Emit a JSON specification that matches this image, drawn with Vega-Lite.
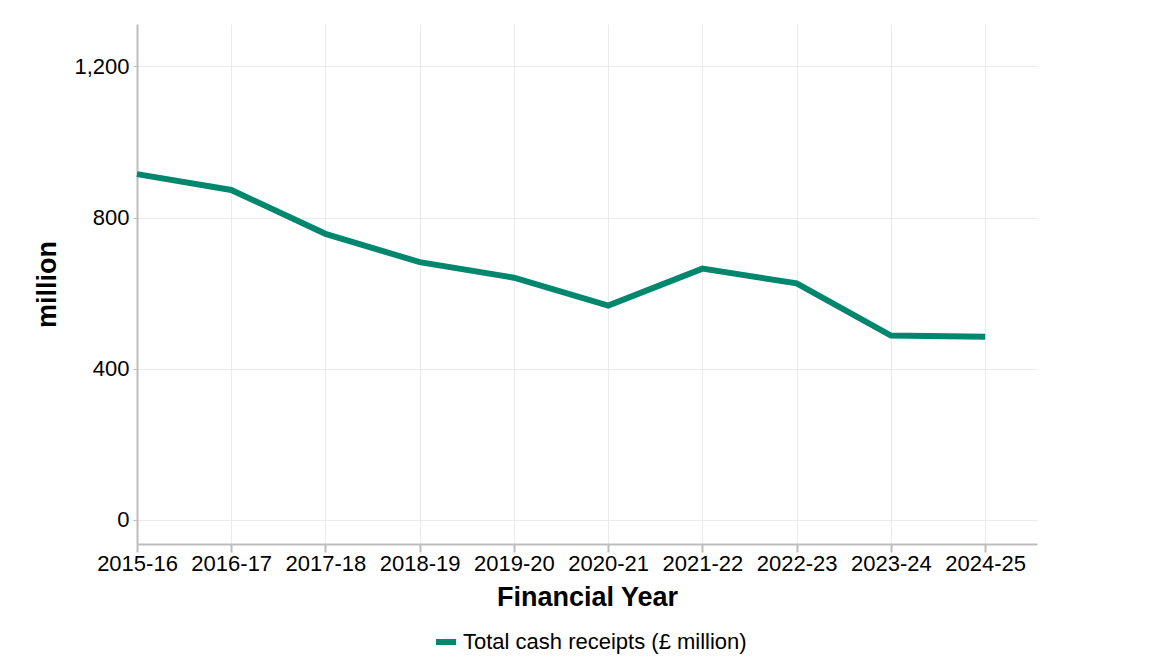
{
  "$schema": "https://vega.github.io/schema/vega-lite/v6.json",
  "autosize": {"type": "none"},
  "padding": {"left": 137, "top": 24, "right": 127, "bottom": 125},
  "width": 900,
  "height": 520,
  "background": "white",
  "config": {
    "font": "Liberation Sans",
    "view": {"stroke": null}
  },
  "data": {
    "values": [
      {"start": 2015, "year": "2015-16", "series": "Total cash receipts (£ million)", "value": 915},
      {"start": 2016, "year": "2016-17", "series": "Total cash receipts (£ million)", "value": 873},
      {"start": 2017, "year": "2017-18", "series": "Total cash receipts (£ million)", "value": 757},
      {"start": 2018, "year": "2018-19", "series": "Total cash receipts (£ million)", "value": 682},
      {"start": 2019, "year": "2019-20", "series": "Total cash receipts (£ million)", "value": 641},
      {"start": 2020, "year": "2020-21", "series": "Total cash receipts (£ million)", "value": 567},
      {"start": 2021, "year": "2021-22", "series": "Total cash receipts (£ million)", "value": 665},
      {"start": 2022, "year": "2022-23", "series": "Total cash receipts (£ million)", "value": 626},
      {"start": 2023, "year": "2023-24", "series": "Total cash receipts (£ million)", "value": 488},
      {"start": 2024, "year": "2024-25", "series": "Total cash receipts (£ million)", "value": 485}
    ]
  },
  "mark": {"type": "line", "strokeWidth": 6, "strokeJoin": "miter", "strokeCap": "butt"},
  "encoding": {
    "x": {
      "field": "start",
      "type": "quantitative",
      "scale": {"domain": [2015, 2024.55], "nice": false, "zero": false},
      "axis": {
        "title": "Financial Year",
        "titleFontSize": 27,
        "titleFontWeight": "bold",
        "titleColor": "black",
        "titlePadding": 10,
        "values": [2015, 2016, 2017, 2018, 2019, 2020, 2021, 2022, 2023, 2024],
        "labelExpr": "datum.value + '-' + substring(toString(datum.value + 1), 2, 4)",
        "labelFontSize": 22,
        "labelColor": "black",
        "labelPadding": 1,
        "labelFlush": false,
        "labelOverlap": false,
        "tickSize": 8,
        "tickColor": "#bdbdbd",
        "tickWidth": 2,
        "domainColor": "#bdbdbd",
        "domainWidth": 2,
        "gridColor": "#ebebeb",
        "gridWidth": 1
      }
    },
    "y": {
      "field": "value",
      "type": "quantitative",
      "scale": {"domain": [-63.5, 1312], "nice": false, "zero": false},
      "axis": {
        "title": "million",
        "titleFontSize": 27,
        "titleFontWeight": "bold",
        "titleColor": "black",
        "titlePadding": 12,
        "values": [0, 400, 800, 1200],
        "format": ",d",
        "labelFontSize": 22,
        "labelColor": "black",
        "labelPadding": 4,
        "tickSize": 4,
        "tickColor": "#bdbdbd",
        "domainColor": "#bdbdbd",
        "domainWidth": 2,
        "gridColor": "#ebebeb",
        "gridWidth": 1
      }
    },
    "color": {
      "field": "series",
      "type": "nominal",
      "scale": {"range": ["#00876e"]},
      "legend": {
        "title": null,
        "orient": "none",
        "legendX": 296,
        "legendY": 605,
        "direction": "horizontal",
        "symbolType": "stroke",
        "symbolStrokeWidth": 6,
        "symbolSize": 400,
        "labelFontSize": 22,
        "labelColor": "black",
        "labelLimit": 500
      }
    }
  }
}
